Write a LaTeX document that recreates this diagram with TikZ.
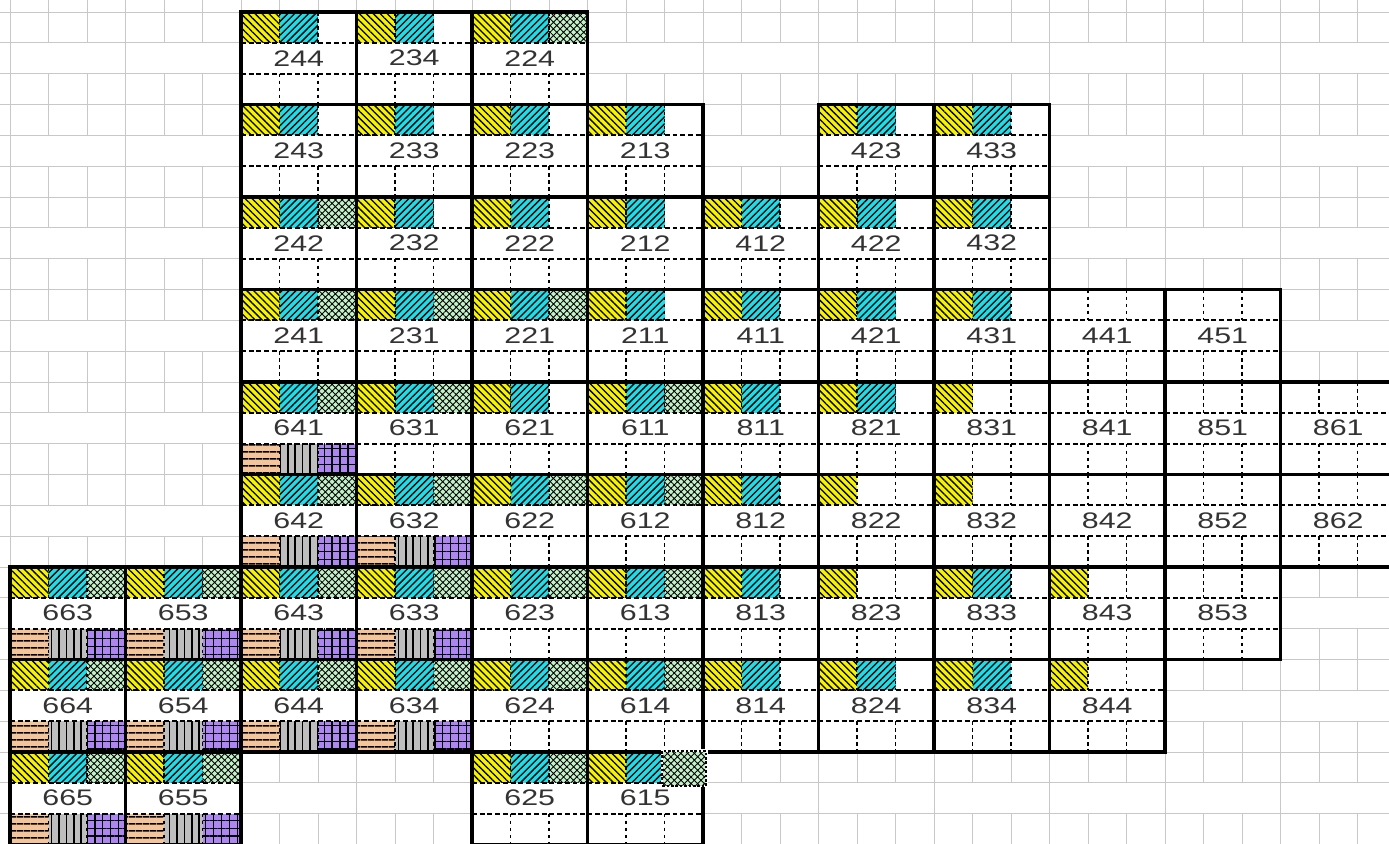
\documentclass[tikz,border=0pt]{standalone}
\usepackage{fontspec}
\setmainfont{Liberation Sans}
\usepackage{graphicx}
\usepackage{tikz}
\usetikzlibrary{patterns,patterns.meta}
\definecolor{gridline}{HTML}{C8C8C8}
\definecolor{labeltext}{HTML}{333333}
\definecolor{hatchyellow}{HTML}{F6F200}
\definecolor{hatchcyan}{HTML}{20DCE6}
\definecolor{hatchgreen}{HTML}{C4F2C8}
\definecolor{hatchorange}{HTML}{F4C49A}
\definecolor{hatchgray}{HTML}{BEBEBE}
\definecolor{hatchpurple}{HTML}{AE86F2}

\begin{document}
\begin{tikzpicture}[x=0.02cm,y=-0.02cm,
    bgline/.style={draw=gridline,line width=0.55pt},
    cellframe/.style={draw=black,line width=2pt},
    rowsep/.style={draw=black,line width=0.95pt,dash pattern=on 2.8pt off 1.6pt},
    colsep/.style={draw=black,line width=1.05pt,dash pattern=on 2pt off 2pt},
    ypat/.style={fill=hatchyellow,postaction={pattern={Lines[angle=-45,distance=2.8pt,line width=0.75pt]},pattern color=black}},
    cpat/.style={fill=hatchcyan,postaction={pattern={Lines[angle=45,distance=2.8pt,line width=0.75pt]},pattern color=black}},
    gpat/.style={fill=hatchgreen,postaction={pattern={Hatch[angle=45,distance=2.7pt,line width=0.5pt]},pattern color=black}},
    opat/.style={fill=hatchorange,postaction={pattern={Lines[angle=0,distance=4pt,line width=0.85pt]},pattern color=black}},
    hpat/.style={fill=hatchgray,postaction={pattern={Lines[angle=90,distance=4.2pt,line width=0.85pt]},pattern color=black}},
    ppat/.style={fill=hatchpurple,postaction={pattern={Hatch[angle=0,distance=4.5pt,line width=0.75pt]},pattern color=black}},
    celllabel/.style={text=labeltext,font=\fontsize{12.8}{14}\selectfont,inner sep=0pt}]
  \clip (0,0) rectangle (1389,844);
  \fill[white] (0,0) rectangle (1389,844);
  \foreach \m in {0,...,27}
    \draw[bgline] (0,{12+30.8333*\m}) -- (1389,{12+30.8333*\m});
  \foreach \k in {0,...,12}
    \draw[bgline] ({10+115.5*\k},0) -- ({10+115.5*\k},844);
  \foreach \k in {0,...,11}{
    \foreach \j in {0,...,9}{
      \draw[bgline] ({48.5+115.5*\k},{12+92.5*\j-30.8333}) -- ++(0,61.6667);
      \draw[bgline] ({87+115.5*\k},{12+92.5*\j-30.8333}) -- ++(0,61.6667);
    }
  }
  \foreach \c/\r/\lab/\tp/\bt in {2/0/244/2/0,3/0/234/2/0,4/0/224/3/0,
      2/1/243/2/0,3/1/233/2/0,4/1/223/2/0,5/1/213/2/0,7/1/423/2/0,8/1/433/2/0,
      2/2/242/3/0,3/2/232/2/0,4/2/222/2/0,5/2/212/2/0,6/2/412/2/0,7/2/422/2/0,8/2/432/2/0,
      2/3/241/3/0,3/3/231/3/0,4/3/221/3/0,5/3/211/2/0,6/3/411/2/0,7/3/421/2/0,8/3/431/2/0,9/3/441/0/0,10/3/451/0/0,
      2/4/641/3/1,3/4/631/3/0,4/4/621/2/0,5/4/611/3/0,6/4/811/2/0,7/4/821/2/0,8/4/831/1/0,9/4/841/0/0,10/4/851/0/0,11/4/861/0/0,
      2/5/642/3/1,3/5/632/3/1,4/5/622/3/0,5/5/612/3/0,6/5/812/2/0,7/5/822/1/0,8/5/832/1/0,9/5/842/0/0,10/5/852/0/0,11/5/862/0/0,
      0/6/663/3/1,1/6/653/3/1,2/6/643/3/1,3/6/633/3/1,4/6/623/3/0,5/6/613/3/0,6/6/813/2/0,7/6/823/1/0,8/6/833/2/0,9/6/843/1/0,10/6/853/0/0,
      0/7/664/3/1,1/7/654/3/1,2/7/644/3/1,3/7/634/3/1,4/7/624/3/0,5/7/614/3/0,6/7/814/2/0,7/7/824/2/0,8/7/834/2/0,9/7/844/1/0,
      0/8/665/3/1,1/8/655/3/1,4/8/625/3/0,5/8/615/2/0}{
    \begin{scope}[shift={({10+115.5*\c},{12+92.5*\r})}]
      \fill[white] (0,0) rectangle (115.5,92.5);
      \ifnum\tp>0 \path[ypat] (0,0) rectangle (38.5,30.83); \fi
      \ifnum\tp>1 \path[cpat] (38.5,0) rectangle (77,30.83); \fi
      \ifnum\tp>2 \path[gpat] (77,0) rectangle (115.5,30.83); \fi
      \ifnum\bt>0
        \path[opat] (0,61.67) rectangle (38.5,92.5);
        \path[hpat] (38.5,61.67) rectangle (77,92.5);
        \path[ppat] (77,61.67) rectangle (115.5,92.5);
      \fi
      \draw[rowsep] (0,30.83) -- (115.5,30.83) (0,61.67) -- (115.5,61.67);
      \draw[colsep] (38.5,0) -- (38.5,30.83) (77,0) -- (77,30.83)
        (38.5,61.67) -- (38.5,92.5) (77,61.67) -- (77,92.5);
      \draw[cellframe] (0,0) rectangle (115.5,92.5);
      \node[celllabel] (n\lab) at (57.75,46.25) {\scalebox{1.35}[1]{\lab}};
    \end{scope}
  }
  \fill[white] (661,749) rectangle (708,787);
  \path[gpat] (663,752) rectangle (705,785);
  \draw[black,line width=0.6pt,dash pattern=on 1.5pt off 1pt] (662,751) rectangle (706,786);
\end{tikzpicture}
\end{document}
